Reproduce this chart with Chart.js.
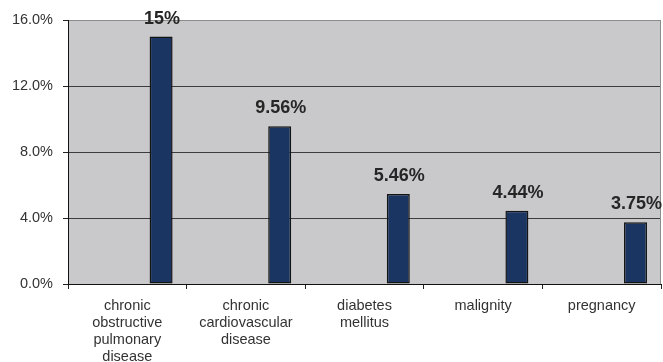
<!DOCTYPE html>
<html>
<head>
<meta charset="utf-8">
<script src="https://cdn.jsdelivr.net/npm/chart.js@4/dist/chart.umd.min.js"></script>
<style>
  html, body { margin: 0; padding: 0; background: #ffffff; }
  #wrap { width: 663px; height: 362px; }
</style>
</head>
<body>
<div id="wrap"><canvas id="c" width="663" height="362"></canvas></div>
<script>
// Share of patients with each underlying condition (%)
const categories = [
  ['chronic', 'obstructive', 'pulmonary', 'disease'],
  ['chronic', 'cardiovascular', 'disease'],
  ['diabetes', 'mellitus'],
  'malignity',
  'pregnancy'
];
const emptySeries = [null, null, null, null, null];
const prevalence = [15, 9.56, 5.46, 4.44, 3.75];
const yTicks = [0, 4, 8, 12, 16];

const FONT = '"Liberation Sans", Arial, sans-serif';

// Gray plot area with a thin gray frame on top/right
const plotBackground = {
  id: 'plotBackground',
  beforeDraw(chart) {
    const { ctx, chartArea: a } = chart;
    ctx.save();
    ctx.fillStyle = '#c9c9cb';
    ctx.fillRect(a.left, a.top, a.right - a.left, a.bottom - a.top);
    ctx.restore();
  },
  afterDatasetsDraw(chart) {
    const { ctx, chartArea: a } = chart;
    ctx.save();
    ctx.strokeStyle = '#8c8c8c';
    ctx.lineWidth = 1;
    ctx.beginPath();
    ctx.moveTo(Math.round(a.right) - 0.5, a.top);
    ctx.lineTo(Math.round(a.right) - 0.5, a.bottom);
    ctx.stroke();
    ctx.restore();
  }
};

// Bold value labels above each bar
const valueLabels = {
  id: 'valueLabels',
  afterDatasetsDraw(chart) {
    const { ctx } = chart;
    const meta = chart.getDatasetMeta(1);
    ctx.save();
    ctx.font = 'bold 18px ' + FONT;
    ctx.fillStyle = '#262626';
    ctx.textAlign = 'center';
    ctx.textBaseline = 'alphabetic';
    meta.data.forEach((bar, i) => {
      ctx.fillText(prevalence[i] + '%', bar.x + 1, bar.y - 13);
    });
    ctx.restore();
  }
};

new Chart(document.getElementById('c'), {
  type: 'bar',
  data: {
    labels: categories,
    datasets: [
      { data: emptySeries, backgroundColor: 'transparent' },
      {
        data: prevalence,
        backgroundColor: '#1b3563',
        borderColor: '#141414',
        borderWidth: 1.5,
        borderSkipped: false
      }
    ]
  },
  options: {
    responsive: false,
    animation: false,
    devicePixelRatio: 1,
    categoryPercentage: 1.14,
    barPercentage: 0.34,
    layout: { padding: { top: 20, right: 2, left: 0, bottom: 0 } },
    plugins: { legend: { display: false }, tooltip: { enabled: false } },
    scales: {
      x: {
        offset: true,
        grid: {
          offset: true,
          drawOnChartArea: false,
          tickLength: 5,
          color: '#222222'
        },
        border: { color: '#111111', width: 1 },
        ticks: {
          color: '#333333',
          font: { family: FONT, size: 14.5, lineHeight: 1.18 },
          padding: 8,
          maxRotation: 0,
          autoSkip: false
        },
        afterFit(scale) { scale.height = 78; }
      },
      y: {
        min: 0,
        max: 16,
        afterBuildTicks(scale) { scale.ticks = yTicks.map(v => ({ value: v })); },
        grid: {
          color: ctx => (ctx.tick && ctx.tick.value === 16 ? '#8c8c8c' : '#3c3c3c'),
          tickColor: '#222222',
          tickLength: 5,
          lineWidth: 1
        },
        border: { color: '#111111', width: 1 },
        ticks: {
          color: '#333333',
          font: { family: FONT, size: 14.5 },
          padding: 10,
          callback: v => v.toFixed(1) + '%'
        },
        afterFit(scale) { scale.width = 68; }
      }
    }
  },
  plugins: [plotBackground, valueLabels]
});
</script>
</body>
</html>
